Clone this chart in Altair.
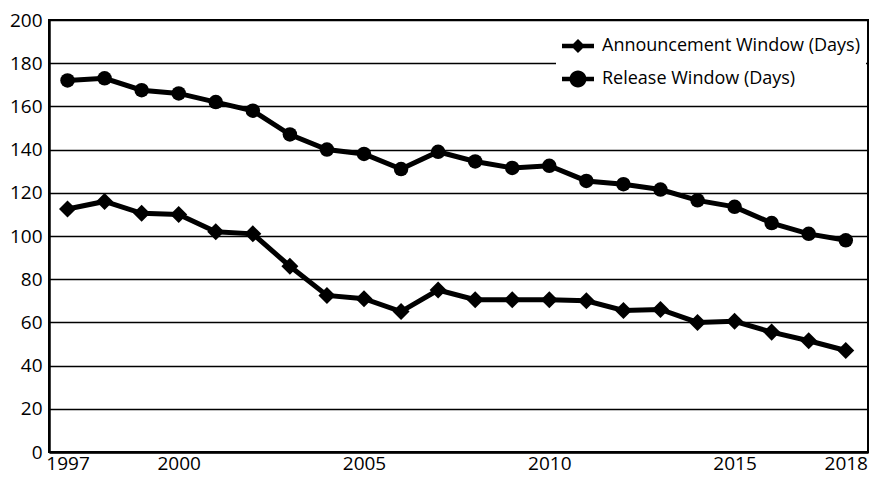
import altair as alt
import pandas as pd

years = list(range(1997, 2019))
announcement = [112.5, 116, 110.5, 110, 102, 101, 86, 72.5, 71, 65, 75,
                70.5, 70.5, 70.5, 70, 65.5, 66, 60, 60.5, 55.5, 51.5, 47]
release = [172, 173, 167.5, 166, 162, 158, 147, 140, 138, 131, 139,
           134.5, 131.5, 132.5, 125.5, 124, 121.5, 116.5, 113.5, 106, 101, 98]
series_names = ["Announcement Window (Days)", "Release Window (Days)"]
x_ticks = [1997, 2000, 2005, 2010, 2015, 2018]
y_ticks = list(range(0, 201, 20))

df = pd.DataFrame({
    "year": years * 2,
    "value": announcement + release,
    "series": [series_names[0]] * len(years) + [series_names[1]] * len(years),
})

FONT = "Open Sans"

# legend symbols: a line with a diamond / circle on it (unit box -1..1)
sym_diamond = ("M-1,-0.14 L1,-0.14 L1,0.14 L-1,0.14 Z "
               "M0,-0.44 L0.44,0 L0,0.44 L-0.44,0 Z")
sym_circle = ("M-1,-0.14 L1,-0.14 L1,0.14 L-1,0.14 Z "
              "M-0.53,0 A0.53,0.53 0 1,1 0.53,0 A0.53,0.53 0 1,1 -0.53,0 Z")

x = alt.X("year:Q",
          scale=alt.Scale(domain=[1996.5, 2018.6], nice=False, zero=False),
          axis=alt.Axis(values=x_ticks, format="d", title=None, grid=False,
                        ticks=False, labelPadding=2, domainWidth=2.5,
                        domainColor="black"))
y = alt.Y("value:Q",
          scale=alt.Scale(domain=[0, 200], nice=False),
          axis=alt.Axis(values=y_ticks, title=None, grid=True, gridColor="black",
                        gridWidth=1.5, gridOpacity=1, ticks=False, labelPadding=7,
                        domainWidth=2.5, domainColor="black"))

base = alt.Chart(df)

lines = base.mark_line(color="black", strokeWidth=5).encode(
    x=x, y=y, detail="series:N")

points = base.mark_point(filled=True, color="black", opacity=1).encode(
    x=x, y=y,
    shape=alt.Shape("series:N",
                    scale=alt.Scale(domain=series_names, range=["diamond", "circle"]),
                    legend=None),
    size=alt.Size("series:N",
                  scale=alt.Scale(domain=series_names, range=[290, 210]),
                  legend=None),
)

legend_layer = base.transform_filter("datum.year < 0").mark_point(
    filled=True, color="black", opacity=1).encode(
    x=x, y=y,
    shape=alt.Shape("series:N",
                    scale=alt.Scale(domain=series_names, range=[sym_diamond, sym_circle]),
                    legend=alt.Legend(title=None, orient="none", legendX=507, legendY=4,
                                      fillColor="white", padding=6, rowPadding=8,
                                      symbolSize=1024, labelFontSize=18,
                                      labelFont=FONT, labelColor="black",
                                      labelOffset=8, symbolFillColor="black",
                                      symbolStrokeWidth=0, symbolOpacity=1,
                                      labelLimit=400)),
)

chart = alt.layer(lines, points, legend_layer).resolve_scale(
    shape="independent", size="independent"
).properties(
    width=819, height=432,
    padding={"left": 41, "top": 12, "right": 1, "bottom": 26},
    autosize=alt.AutoSizeParams(type="none"),
    background="white",
).configure_view(
    stroke="black", strokeWidth=2
).configure_axis(
    labelFont=FONT, labelFontSize=19, labelColor="black"
)

chart.save("out.html", embed_options={"renderer": "svg", "actions": False})
